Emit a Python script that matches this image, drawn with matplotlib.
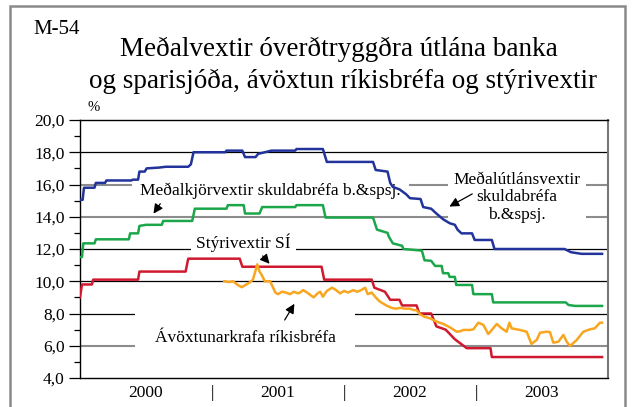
import matplotlib
matplotlib.use("Agg")
import matplotlib.pyplot as plt
import matplotlib.transforms as mtransforms
from matplotlib.patches import Rectangle

plt.rcParams["font.family"] = ["Liberation Serif", "DejaVu Serif"]

# Meðalútlánsvextir skuldabréfa b.&spsj. (blue)
blue_t = [2000.00, 2000.02, 2000.03, 2000.11, 2000.12, 2000.19, 2000.20, 2000.39, 2000.40, 2000.44,
          2000.45, 2000.49, 2000.505, 2000.60, 2000.65, 2000.82, 2000.84, 2000.86, 2001.10, 2001.11,
          2001.23, 2001.25, 2001.33, 2001.35, 2001.40, 2001.45, 2001.63, 2001.64, 2001.84, 2001.87,
          2002.22, 2002.24, 2002.33, 2002.35, 2002.37, 2002.42, 2002.47, 2002.50, 2002.58, 2002.60,
          2002.66, 2002.70, 2002.75, 2002.80, 2002.84, 2002.86, 2002.89, 2002.97, 2002.99, 2003.12,
          2003.14, 2003.67, 2003.72, 2003.76, 2003.80, 2003.955]
blue_v = [15.05, 15.05, 15.8, 15.8, 16.1, 16.1, 16.25, 16.25, 16.3, 16.3,
          16.8, 16.8, 17.0, 17.05, 17.1, 17.1, 17.25, 18.0, 18.0, 18.1,
          18.1, 17.7, 17.7, 17.9, 18.0, 18.1, 18.1, 18.2, 18.2, 17.4,
          17.4, 16.9, 16.8, 16.1, 15.85, 15.7, 15.4, 15.15, 15.1, 14.6,
          14.5, 14.2, 13.85, 13.6, 13.5, 13.2, 12.97, 12.97, 12.56, 12.56,
          12.0, 12.0, 11.8, 11.75, 11.7, 11.7]

# Meðalkjörvextir skuldabréfa b.&spsj. (green)
green_t = [2000.00, 2000.015, 2000.025, 2000.11, 2000.12, 2000.37, 2000.38, 2000.44, 2000.45, 2000.50,
           2000.62, 2000.63, 2000.85, 2000.87, 2001.11, 2001.12, 2001.24, 2001.25, 2001.36, 2001.38,
           2001.63, 2001.64, 2001.84, 2001.86, 2002.22, 2002.25, 2002.33, 2002.34, 2002.37, 2002.44,
           2002.45, 2002.59, 2002.61, 2002.66, 2002.69, 2002.74, 2002.75, 2002.79, 2002.80, 2002.84,
           2002.85, 2002.97, 2002.98, 2003.12, 2003.13, 2003.68, 2003.70, 2003.75, 2003.955]
green_v = [11.5, 11.5, 12.35, 12.35, 12.6, 12.6, 12.97, 12.97, 13.43, 13.5,
           13.5, 13.74, 13.74, 14.5, 14.5, 14.72, 14.72, 14.2, 14.2, 14.6,
           14.6, 14.72, 14.72, 13.95, 13.95, 13.2, 13.0, 12.76, 12.35, 12.2,
           12.0, 11.9, 11.3, 11.27, 10.95, 10.95, 10.5, 10.5, 10.27, 10.27,
           9.77, 9.77, 9.2, 9.2, 8.69, 8.69, 8.53, 8.47, 8.47]

# Stýrivextir SÍ (red)
red_t = [2000.00, 2000.015, 2000.09, 2000.10, 2000.44, 2000.45, 2000.80, 2000.82, 2001.21, 2001.23,
         2001.83, 2001.85, 2002.21, 2002.23, 2002.31, 2002.35, 2002.42, 2002.44, 2002.55, 2002.57,
         2002.66, 2002.70, 2002.77, 2002.84, 2002.93, 2003.11, 2003.12, 2003.955]
red_v = [9.0, 9.8, 9.8, 10.1, 10.1, 10.6, 10.6, 11.4, 11.4, 10.9,
         10.9, 10.1, 10.1, 9.6, 9.35, 8.85, 8.85, 8.5, 8.5, 8.0,
         8.0, 7.2, 7.0, 6.4, 5.85, 5.85, 5.3, 5.3]

# Ávöxtunarkrafa ríkisbréfa (orange)
orange_t = [2001.093, 2001.13, 2001.16, 2001.19, 2001.225, 2001.26, 2001.29, 2001.31, 2001.343, 2001.36,
            2001.376, 2001.40, 2001.44, 2001.48, 2001.50, 2001.53, 2001.56, 2001.59, 2001.62, 2001.65,
            2001.667, 2001.69, 2001.72, 2001.745, 2001.77, 2001.80, 2001.82, 2001.84, 2001.87, 2001.91,
            2001.94, 2001.97, 2002.00, 2002.03, 2002.07, 2002.10, 2002.13, 2002.16, 2002.18, 2002.21,
            2002.24, 2002.27, 2002.32, 2002.36, 2002.39, 2002.43, 2002.46, 2002.50, 2002.525, 2002.55,
            2002.576, 2002.61, 2002.652, 2002.70, 2002.753, 2002.803, 2002.854, 2002.88, 2002.904, 2002.955,
            2002.98, 2003.018, 2003.056, 2003.093, 2003.13, 2003.157, 2003.194, 2003.232, 2003.253, 2003.27,
            2003.333, 2003.384, 2003.42, 2003.46, 2003.485, 2003.535, 2003.56, 2003.586, 2003.624, 2003.662,
            2003.687, 2003.712, 2003.763, 2003.813, 2003.864, 2003.90, 2003.939, 2003.955]
orange_v = [10.0, 9.95, 10.0, 9.8, 9.63, 9.8, 9.95, 10.1, 11.05, 10.6,
            10.4, 10.0, 10.0, 9.3, 9.2, 9.35, 9.3, 9.2, 9.35, 9.25,
            9.3, 9.45, 9.3, 9.15, 9.0, 9.25, 9.35, 9.04, 9.4, 9.6,
            9.45, 9.25, 9.4, 9.3, 9.45, 9.35, 9.45, 9.6, 9.2, 9.3,
            9.0, 8.75, 8.5, 8.35, 8.3, 8.35, 8.3, 8.3, 8.22, 8.2,
            7.95, 7.8, 7.7, 7.5, 7.35, 7.14, 6.87, 6.9, 6.98, 6.98,
            7.02, 7.43, 7.29, 6.73, 7.08, 7.35, 7.08, 6.87, 7.43, 7.08,
            6.98, 6.87, 6.11, 6.36, 6.81, 6.87, 6.85, 6.19, 6.25, 6.67,
            6.25, 5.98, 6.36, 6.87, 7.02, 7.08, 7.43, 7.43]

y_ticks = [4, 6, 8, 10, 12, 14, 16, 18, 20]
y_labels = ["4,0", "6,0", "8,0", "10,0", "12,0", "14,0", "16,0", "18,0", "20,0"]
years = [2000, 2001, 2002, 2003]
black_grid = [10, 8, 12, 18]
gray_grid = [6, 14, 16]

fig = plt.figure(figsize=(6.35, 4.07), dpi=100)
# outer gray frame
fig.patches.append(Rectangle((10 / 635, -0.05), 615 / 635, 1 - 6 / 407 + 0.05, transform=fig.transFigure,
                             fill=False, edgecolor="#8a8a8a", linewidth=1.8))

ax = fig.add_axes([80 / 635, 29 / 407, 528 / 635, 258 / 407])
ax.set_xlim(2000, 2004)
ax.set_ylim(4, 20)

for g in black_grid:
    ax.axhline(g, color="black", linewidth=0.9, zorder=1)
for g in gray_grid:
    ax.axhline(g, color="#8c8c8c", linewidth=1.5, zorder=1)

ax.plot(blue_t, blue_v, color="#22339b", linewidth=1.8, zorder=4)
ax.plot(green_t, green_v, color="#1ca64a", linewidth=1.8, zorder=4)
ax.plot(red_t, red_v, color="#d0192e", linewidth=1.8, zorder=4)
ax.plot(orange_t, orange_v, color="#f8a51f", linewidth=1.8, zorder=5)

ax.set_yticks(y_ticks)
ax.set_yticklabels(y_labels, fontsize=12.5)
ax.set_yticks([5, 7, 9, 11, 13, 15, 17, 19], minor=True)
ax.tick_params(axis="y", which="major", length=8, width=0.9, direction="out", pad=3)
ax.tick_params(axis="y", which="minor", length=4, width=0.9, direction="out")
ax.set_xticks([])

for side in ["left", "bottom", "top"]:
    ax.spines[side].set_color("black")
    ax.spines[side].set_linewidth(1.0)
ax.spines["right"].set_color("#777777")
ax.spines["right"].set_linewidth(1.5)

# year labels below the axis with separators
trans = mtransforms.blended_transform_factory(ax.transData, ax.transAxes)
for yr in years:
    ax.text(yr + 0.5, -0.058, str(yr), transform=trans, ha="center", va="center", fontsize=12.5)
for yr in years[1:]:
    ax.text(yr, -0.058, "|", transform=trans, ha="center", va="center", fontsize=12.5)

label_box = dict(facecolor="white", edgecolor="none", pad=2)
ax.text(2001.445, 15.6, "Meðalkjörvextir skuldabréfa b.&spsj.", ha="center", va="center",
        fontsize=12.5, bbox=dict(facecolor="white", edgecolor="none", pad=6), zorder=3)
ax.annotate("", xy=(2000.545, 14.05), xytext=(2000.62, 14.95),
            arrowprops=dict(arrowstyle="-|>", color="black", lw=0.9, mutation_scale=14), zorder=6)

ax.text(2003.31, 15.2, "Meðalútlánsvextir\nskuldabréfa\nb.&spsj.", ha="center", va="center",
        fontsize=12.5, linespacing=1.1, bbox=dict(facecolor="white", edgecolor="none", pad=4), zorder=3)
ax.annotate("", xy=(2002.78, 14.55), xytext=(2002.99, 15.5),
            arrowprops=dict(arrowstyle="-|>", color="black", lw=0.9, mutation_scale=14), zorder=6)

ax.text(2001.24, 12.4, "Stýrivextir SÍ", ha="center", va="center", fontsize=12.5,
        bbox=dict(facecolor="white", edgecolor="none", pad=4), zorder=3)
ax.annotate("", xy=(2001.45, 10.95), xytext=(2001.37, 11.7),
            arrowprops=dict(arrowstyle="-|>", color="black", lw=0.9, mutation_scale=14), zorder=6)

ax.text(2001.25, 6.5, "Ávöxtunarkrafa ríkisbréfa", ha="center", va="center", fontsize=12.5,
        bbox=dict(facecolor="white", edgecolor="none", pad=14), zorder=3)
ax.annotate("", xy=(2001.635, 8.75), xytext=(2001.54, 7.45),
            arrowprops=dict(arrowstyle="-|>", color="black", lw=0.9, mutation_scale=14), zorder=6)

ax.text(8 / 528, 1.05, "%", transform=ax.transAxes, ha="left", va="center", fontsize=10.5)

fig.text(33 / 635, 1 - 30 / 407, "M-54", ha="left", va="center", fontsize=15)
fig.text(339 / 635, 1 - 49 / 407, "Meðalvextir óverðtryggðra útlána banka", ha="center", va="center",
         fontsize=19.5)
fig.text(343 / 635, 1 - 81 / 407, "og sparisjóða, ávöxtun ríkisbréfa og stýrivextir", ha="center",
         va="center", fontsize=19.5)

fig.savefig("out.png", dpi=100)
